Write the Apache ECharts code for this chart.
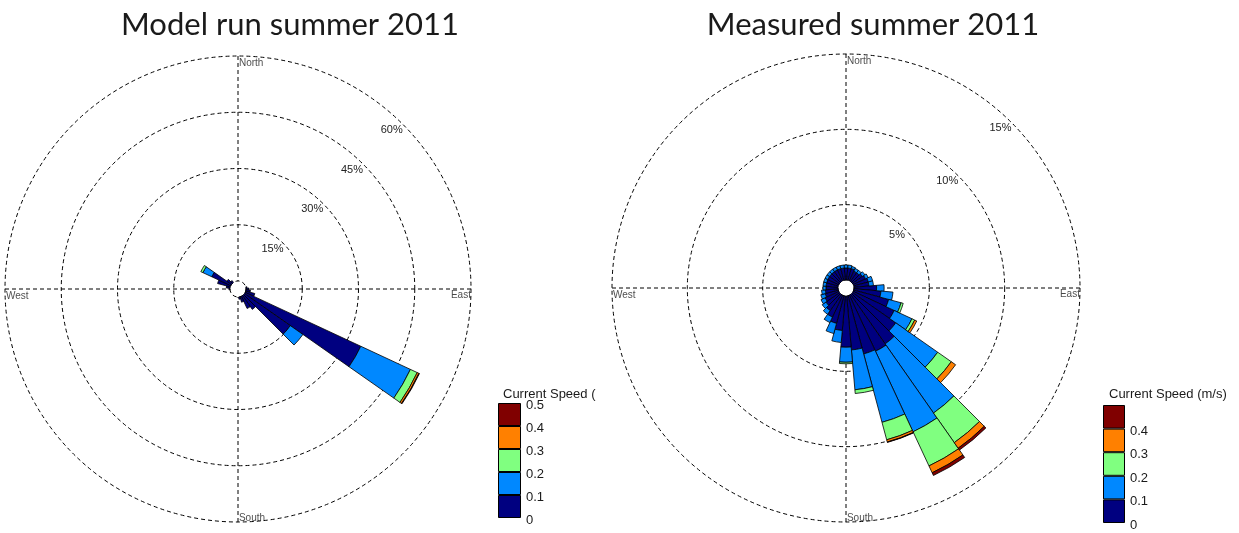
<!DOCTYPE html>
<html>
<head>
<meta charset="utf-8">
<script src="https://cdn.jsdelivr.net/npm/echarts@6/dist/echarts.min.js"></script>
<style>
  html, body { margin: 0; padding: 0; background: #ffffff; }
  #chart { width: 1239px; height: 533px; }
</style>
</head>
<body>
<div id="chart"></div>
<script>
// Direction bins (degrees clockwise from North), 10° wide, centred on each value
const directions = [0,10,20,30,40,50,60,70,80,90,100,110,120,130,140,150,160,170,
                    180,190,200,210,220,230,240,250,260,270,280,290,300,310,320,330,340,350];

// Current speed classes (m/s) and their colours
const speedClasses = ['0-0.1', '0.1-0.2', '0.2-0.3', '0.3-0.4', '0.4-0.5'];
const speedColors  = ['#000080', '#0088ff', '#80ff80', '#ff8000', '#800000'];
const legendTicks  = [0, 0.1, 0.2, 0.3, 0.4, 0.5];

// Compass labels on the outer ring
const compassNames  = ['North', 'East', 'South', 'West'];
const compassAngles = [0, 90, 180, 270];

// Ring labels (% of time)
const modelRings    = [0, 15, 30, 45, 60];
const measuredRings = [0, 5, 10, 15];

// Model run summer 2011: % of time per direction bin, one array per speed class
const modelClass1 = [0,0,0,0,0,0,0,0,0.3,0.8,1.2,2.5,34,14.9,4.5,3.6,1.5,0.6,
                     0,0,0,0,0,0,0,0,0,0.3,1.0,3.5,5.6,1.5,0.6,0,0,0];
const modelClass2 = [0,0,0,0,0,0,0,0,0,0,0,0,14.6,4.1,0,0,0,0,
                     0,0,0,0,0,0,0,0,0,0,0,0,2.6,0,0,0,0,0];
const modelClass3 = [0,0,0,0,0,0,0,0,0,0,0,0,2.0,0,0,0,0,0,
                     0,0,0,0,0,0,0,0,0,0,0,0,0.6,0,0,0,0,0];
const modelClass4 = [0,0,0,0,0,0,0,0,0,0,0,0,0.5,0,0,0,0,0,
                     0,0,0,0,0,0,0,0,0,0,0,0,0,0,0,0,0,0];
const modelClass5 = [0,0,0,0,0,0,0,0,0,0,0,0,0.15,0,0,0,0,0,
                     0,0,0,0,0,0,0,0,0,0,0,0,0,0,0,0,0,0];

// Measured summer 2011
const measuredClass1 = [0.8,0.8,0.8,0.7,0.7,0.8,0.9,1.0,1.0,1.5,1.8,2.4,3.0,3.5,4.0,4.1,4.0,3.6,
                        3.4,2.3,1.9,1.6,1.3,1.1,1.0,0.9,0.85,0.8,0.8,0.8,0.8,0.8,0.8,0.8,0.8,0.8];
const measuredClass2 = [0.2,0.2,0.15,0.2,0.2,0.2,0.2,0.3,0.3,0.5,0.8,0.85,1.3,3.4,5.6,5.9,4.7,2.65,
                        1.0,0.8,0.7,0.4,0.3,0.3,0.3,0.3,0.25,0.2,0.2,0.2,0.2,0.2,0.2,0.2,0.2,0.2];
const measuredClass3 = [0,0,0,0,0,0,0,0,0,0,0,0.15,0.2,1.1,2.4,2.5,1.2,0.25,
                        0.1,0,0,0,0,0,0,0,0,0,0,0,0,0,0,0,0,0];
const measuredClass4 = [0,0,0,0,0,0,0,0,0,0,0,0,0.15,0.35,0.45,0.5,0.15,0,
                        0,0,0,0,0,0,0,0,0,0,0,0,0,0,0,0,0,0];
const measuredClass5 = [0,0,0,0,0,0,0,0,0,0,0,0,0,0,0.15,0.2,0.03,0,
                        0,0,0,0,0,0,0,0,0,0,0,0,0,0,0,0,0,0];

const roses = [
  { title: 'Model run summer 2011', titleX: 285, center: [238, 289], outer: 233,
    rings: modelRings, classes: [modelClass1, modelClass2, modelClass3, modelClass4, modelClass5] },
  { title: 'Measured summer 2011', titleX: 868, center: [846, 288], outer: 234,
    rings: measuredRings, classes: [measuredClass1, measuredClass2, measuredClass3, measuredClass4, measuredClass5] }
];

const legends = [
  { left: 498, top: 403, width: 23, height: 115, titleX: 498, titleWidth: 103, showTop: true },
  { left: 1103, top: 405, width: 22, height: 118, titleX: 1104, titleWidth: 140, showTop: false }
];

const HOLE = 8;
const dash = [4, 3];
const labelFont = 'Liberation Sans, Arial, sans-serif';

const option = {
  backgroundColor: '#ffffff',
  animation: false,
  title: [],
  polar: [], angleAxis: [], radiusAxis: [],
  grid: [], xAxis: [], yAxis: [],
  series: []
};

roses.forEach(function (rose, k) {
  const ringMax = rose.rings[rose.rings.length - 1];
  const ringStep = rose.rings[1] - rose.rings[0];
  const pRings = k * 3, pCross = k * 3 + 1, pBars = k * 3 + 2;
  const geom = { center: rose.center, radius: [HOLE, rose.outer] };
  option.polar.push(geom, geom, geom);

  option.title.push({
    text: rose.title, left: rose.titleX, top: 4, textAlign: 'center',
    textStyle: { fontFamily: 'Lato, sans-serif', fontSize: 31, fontWeight: 'normal', color: '#1a1a1a' }
  });

  // Dashed rings with % labels along the North-East diagonal
  option.angleAxis.push({
    polarIndex: pRings, type: 'value', min: 0, max: 360, startAngle: 45,
    axisLine: { show: false }, axisTick: { show: false }, axisLabel: { show: false }, splitLine: { show: false }
  });
  option.radiusAxis.push({
    polarIndex: pRings, type: 'value', min: 0, max: ringMax, interval: ringStep,
    axisLine: { show: false }, axisTick: { show: false },
    splitLine: { show: true, lineStyle: { color: '#000', width: 1, type: dash } },
    axisLabel: {
      margin: 0, align: 'right', verticalAlign: 'top',
      fontFamily: labelFont, fontSize: 11, color: '#222',
      formatter: function (v) { return v === 0 ? '' : v + '%'; }
    }
  });

  // North-South / East-West cross lines
  option.angleAxis.push({
    polarIndex: pCross, type: 'value', min: 0, max: 360, interval: 90, startAngle: 90,
    axisLine: { show: false }, axisTick: { show: false }, axisLabel: { show: false },
    splitLine: { show: true, lineStyle: { color: '#000', width: 1, type: dash } }
  });
  option.radiusAxis.push({ polarIndex: pCross, type: 'value', min: 0, max: ringMax, show: false });

  // Direction bins for the stacked sectors
  option.angleAxis.push({
    polarIndex: pBars, type: 'category', data: directions.map(String), startAngle: 95,
    show: false
  });
  option.radiusAxis.push({ polarIndex: pBars, type: 'value', min: 0, max: ringMax, show: false });

  rose.classes.forEach(function (values, s) {
    option.series.push({
      name: speedClasses[s], type: 'bar', coordinateSystem: 'polar', polarIndex: pBars,
      stack: 'rose' + k, barCategoryGap: '0%', silent: true, z: 5,
      itemStyle: { color: speedColors[s], borderColor: '#000', borderWidth: 0.8 },
      data: values.map(function (v) { return v > 0 ? v : null; })
    });
  });

  // Compass words placed on the outer ring
  const compassStyle = [
    { align: 'left',  verticalAlign: 'top',    offset: [1, 2] },
    { align: 'right', verticalAlign: 'top',    offset: [0, 1] },
    { align: 'left',  verticalAlign: 'bottom', offset: [1, 1] },
    { align: 'left',  verticalAlign: 'top',    offset: [1, 2] }
  ];
  option.series.push({
    type: 'scatter', coordinateSystem: 'polar', polarIndex: pCross, silent: true, z: 6,
    symbolSize: 0.1, itemStyle: { color: 'rgba(0,0,0,0)' },
    data: compassNames.map(function (n, i) {
      return {
        name: n, value: [ringMax, compassAngles[i]],
        label: Object.assign({ show: true, position: [0, 0], formatter: '{b}',
          fontFamily: labelFont, fontSize: 10, color: '#1a1a1a' }, compassStyle[i])
      };
    })
  });
});

// Colour bars for the speed classes
legends.forEach(function (lg, k) {
  option.grid.push({ left: lg.left, top: lg.top, width: lg.width, height: lg.height });
  option.xAxis.push({ gridIndex: k, type: 'category', data: ['speed'], show: false });
  option.yAxis.push({
    gridIndex: k, type: 'value', position: 'right',
    min: legendTicks[0], max: legendTicks[legendTicks.length - 1], interval: legendTicks[1] - legendTicks[0],
    axisLine: { show: false }, axisTick: { show: false }, splitLine: { show: false },
    axisLabel: {
      margin: 5, fontFamily: labelFont, fontSize: 13, color: '#1a1a1a', verticalAlign: 'top', padding: [-4, 0, 0, 0],
      formatter: function (v) {
        if (!lg.showTop && v >= legendTicks[legendTicks.length - 1]) return '';
        return String(Math.round(v * 10) / 10);
      }
    }
  });
  option.title.push({
    text: 'Current Speed (m/s)', left: lg.titleX, top: 383,
    textStyle: { fontFamily: labelFont, fontSize: 13, fontWeight: 'normal', color: '#1a1a1a',
      width: lg.titleWidth, overflow: 'truncate', ellipsis: '' }
  });
  speedClasses.forEach(function (name, s) {
    option.series.push({
      name: name, type: 'bar', xAxisIndex: k, yAxisIndex: k, stack: 'legend' + k,
      barWidth: '100%', silent: true,
      itemStyle: { color: speedColors[s], borderColor: '#000', borderWidth: 1 },
      data: [legendTicks[s + 1] - legendTicks[s]]
    });
  });
});

const chart = echarts.init(document.getElementById('chart'), null, { renderer: 'canvas' });
chart.setOption(option);
</script>
</body>
</html>
